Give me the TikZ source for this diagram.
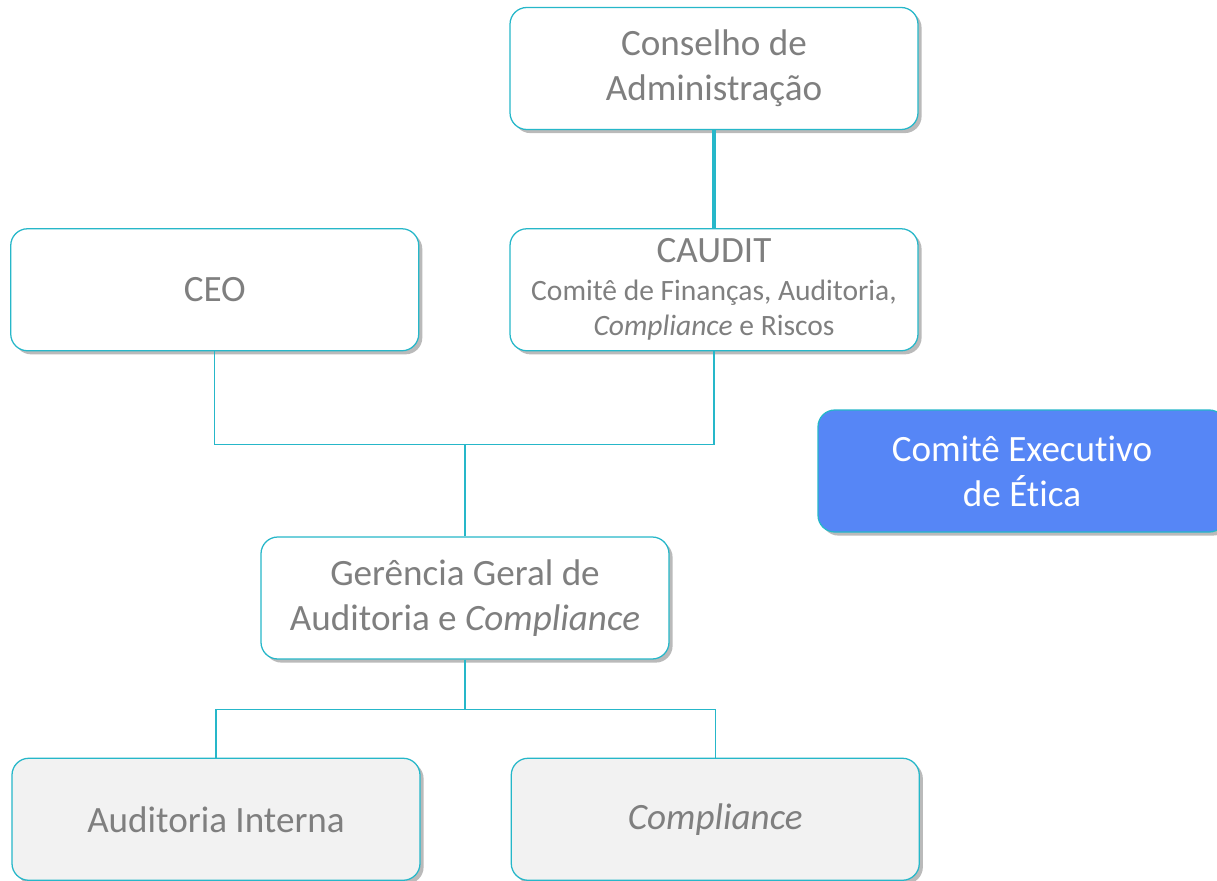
\documentclass[tikz,border=0pt]{standalone}
\usepackage{fontspec}
\setmainfont{Carlito}[Ligatures=NoCommon]
\usepackage{xcolor}
\definecolor{teal_line}{RGB}{38,183,201}
\definecolor{text_gray}{RGB}{127,127,127}
\definecolor{ethics_blue}{RGB}{86,134,246}
\definecolor{light_gray}{RGB}{242,242,242}
\usepackage{tikz}
\usetikzlibrary{positioning, shadows}
\tikzstyle{box} = [
    rectangle, rounded corners=0.42cm, align=center,
    minimum width=10.2cm, minimum height=3.05cm, inner sep=1mm,
    line width=0.9pt, draw=teal_line, fill=white, text=text_gray,
    font=\fontsize{26.4}{32}\selectfont,
    drop shadow={shadow xshift=0.09cm, shadow yshift=-0.09cm, opacity=0.45, fill=black!60},
]
\tikzstyle{link} = [line width=0.9pt, teal_line]

\begin{document}
\begin{tikzpicture}
    \clip (0,0) rectangle (30.425,-22.025);
    \useasboundingbox (0,0) rectangle (30.425,-22.025);

    % upper nodes
    \node[box] (conselho) at (17.85,-1.7125) {Conselho de\\Administração};
    \node[box] (caudit) [below=2.45cm of conselho] {CAUDIT\\[-5pt]{\fontsize{21}{25}\selectfont Comitê de Finanças, Auditoria,}\\[-7pt]{\fontsize{21}{25}\selectfont\textit{Compliance} e Riscos}};
    \node[box] (ceo) [left=2.25cm of caudit] {CEO};
    \node[box, fill=ethics_blue, text=white] (etica) at (25.55,-11.775) {Comitê Executivo\\de Ética};

    % lower nodes
    \node[box] (gerencia) at (11.625,-14.95) {Gerência Geral de\\Auditoria e \textit{Compliance}};
    \node[box, fill=light_gray] (auditoria) [below=2.45cm of gerencia, xshift=-6.225cm] {Auditoria Interna};
    \node[box, fill=light_gray] (compliance) [right=2.25cm of auditoria] {\textit{Compliance}};

    % connectors
    \draw[link, line width=2.6pt] (conselho) to (caudit);

    \coordinate[below=2.325cm of ceo.south] (upper_join);
    \draw[link] (ceo.south) |- (upper_join) -| (caudit.south);
    \draw[link] (gerencia.north) to (gerencia.north |- upper_join);

    \coordinate[below=1.25cm of gerencia.south] (lower_join);
    \draw[link] (gerencia.south) to (lower_join);
    \draw[link] (auditoria.north) |- (lower_join) -| (compliance.north);
\end{tikzpicture}
\end{document}
